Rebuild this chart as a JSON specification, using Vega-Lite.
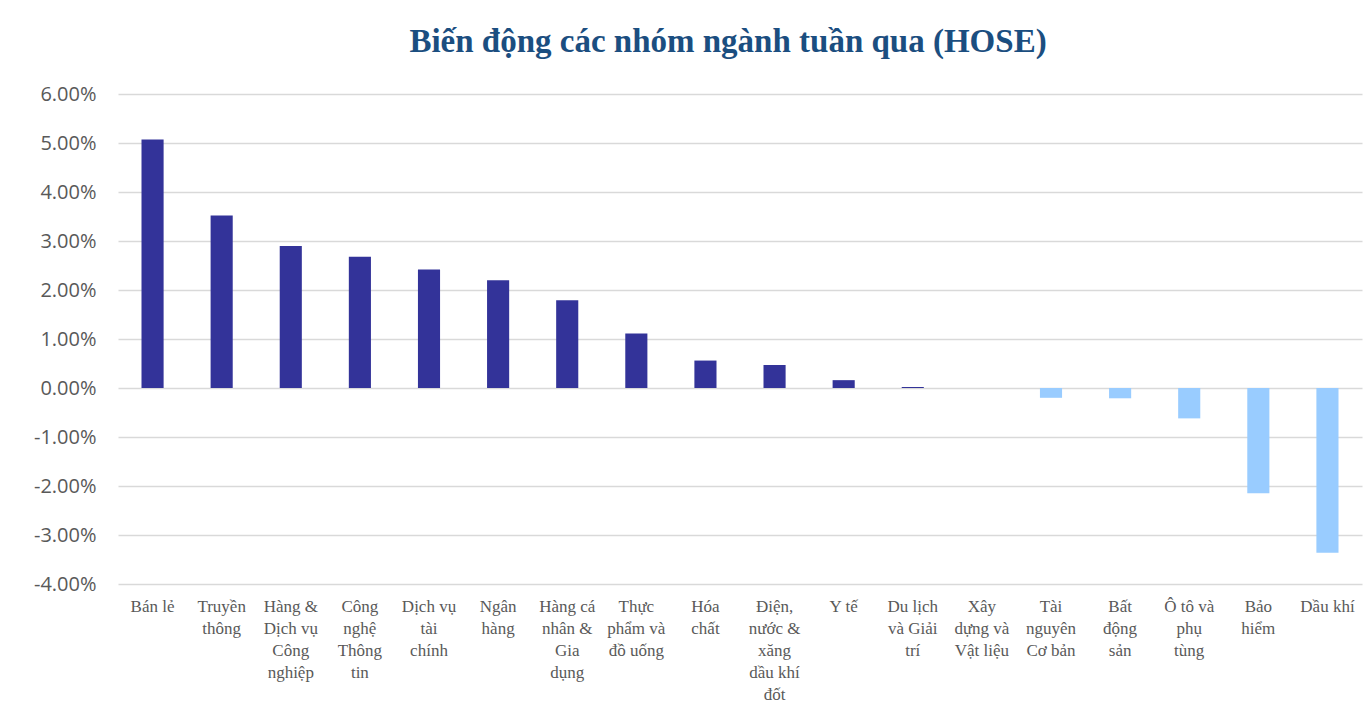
{
  "$schema": "https://vega.github.io/schema/vega-lite/v6.json",
  "autosize": "none",
  "width": 1244,
  "height": 490,
  "padding": {"left": 118, "top": 94, "right": 6, "bottom": 134},
  "background": "white",
  "title": {
    "text": "Biến động các nhóm ngành tuần qua (HOSE)",
    "font": "Liberation Serif",
    "fontSize": 33,
    "fontWeight": "bold",
    "color": "#1B4E80",
    "anchor": "middle",
    "baseline": "alphabetic",
    "offset": -1,
    "dx": -12
  },
  "data": {
    "values": [
      {"nganh": "Bán lẻ", "v": 0.0507},
      {"nganh": "Truyền|thông", "v": 0.0352},
      {"nganh": "Hàng &|Dịch vụ|Công|nghiệp", "v": 0.0290},
      {"nganh": "Công|nghệ|Thông|tin", "v": 0.0268},
      {"nganh": "Dịch vụ|tài|chính", "v": 0.0242},
      {"nganh": "Ngân|hàng", "v": 0.0220},
      {"nganh": "Hàng cá|nhân &|Gia|dụng", "v": 0.0179},
      {"nganh": "Thực|phẩm và|đồ uống", "v": 0.0111},
      {"nganh": "Hóa|chất", "v": 0.0056},
      {"nganh": "Điện,|nước &|xăng|dầu khí|đốt", "v": 0.0047},
      {"nganh": "Y tế", "v": 0.0016},
      {"nganh": "Du lịch|và Giải|trí", "v": 0.0002},
      {"nganh": "Xây|dựng và|Vật liệu", "v": 0.0},
      {"nganh": "Tài|nguyên|Cơ bản", "v": -0.0020},
      {"nganh": "Bất|động|sản", "v": -0.0021},
      {"nganh": "Ô tô và|phụ|tùng", "v": -0.0062},
      {"nganh": "Bảo|hiểm", "v": -0.0215},
      {"nganh": "Dầu khí", "v": -0.0336}
    ]
  },
  "mark": {"type": "bar"},
  "encoding": {
    "x": {
      "field": "nganh",
      "type": "nominal",
      "sort": null,
      "scale": {"paddingInner": 0.68, "paddingOuter": 0.34},
      "axis": {
        "title": null,
        "orient": "bottom",
        "domain": false,
        "ticks": false,
        "labelAngle": 0,
        "labelExpr": "split(datum.label, '|')",
        "labelFont": "Liberation Serif",
        "labelFontSize": 17,
        "labelColor": "#595959",
        "labelLineHeight": 22,
        "labelBaseline": "top",
        "labelPadding": 14,
        "labelLimit": 200
      }
    },
    "y": {
      "field": "v",
      "type": "quantitative",
      "scale": {"domain": [-0.04, 0.06], "nice": false},
      "axis": {
        "title": null,
        "labelExpr": "replace(format(datum.value, '.2%'), '\u2212', '-')",
        "values": [-0.04, -0.03, -0.02, -0.01, 0, 0.01, 0.02, 0.03, 0.04, 0.05, 0.06],
        "domain": false,
        "ticks": false,
        "grid": true,
        "gridColor": "#D9D9D9",
        "gridWidth": 1.3,
        "labelFont": "Open Sans",
        "labelFontSize": 20,
        "labelColor": "#595959",
        "labelPadding": 22
      }
    },
    "color": {
      "condition": {"test": "datum.v >= 0", "value": "#333399"},
      "value": "#99CCFF"
    }
  },
  "config": {
    "view": {"stroke": null}
  }
}
